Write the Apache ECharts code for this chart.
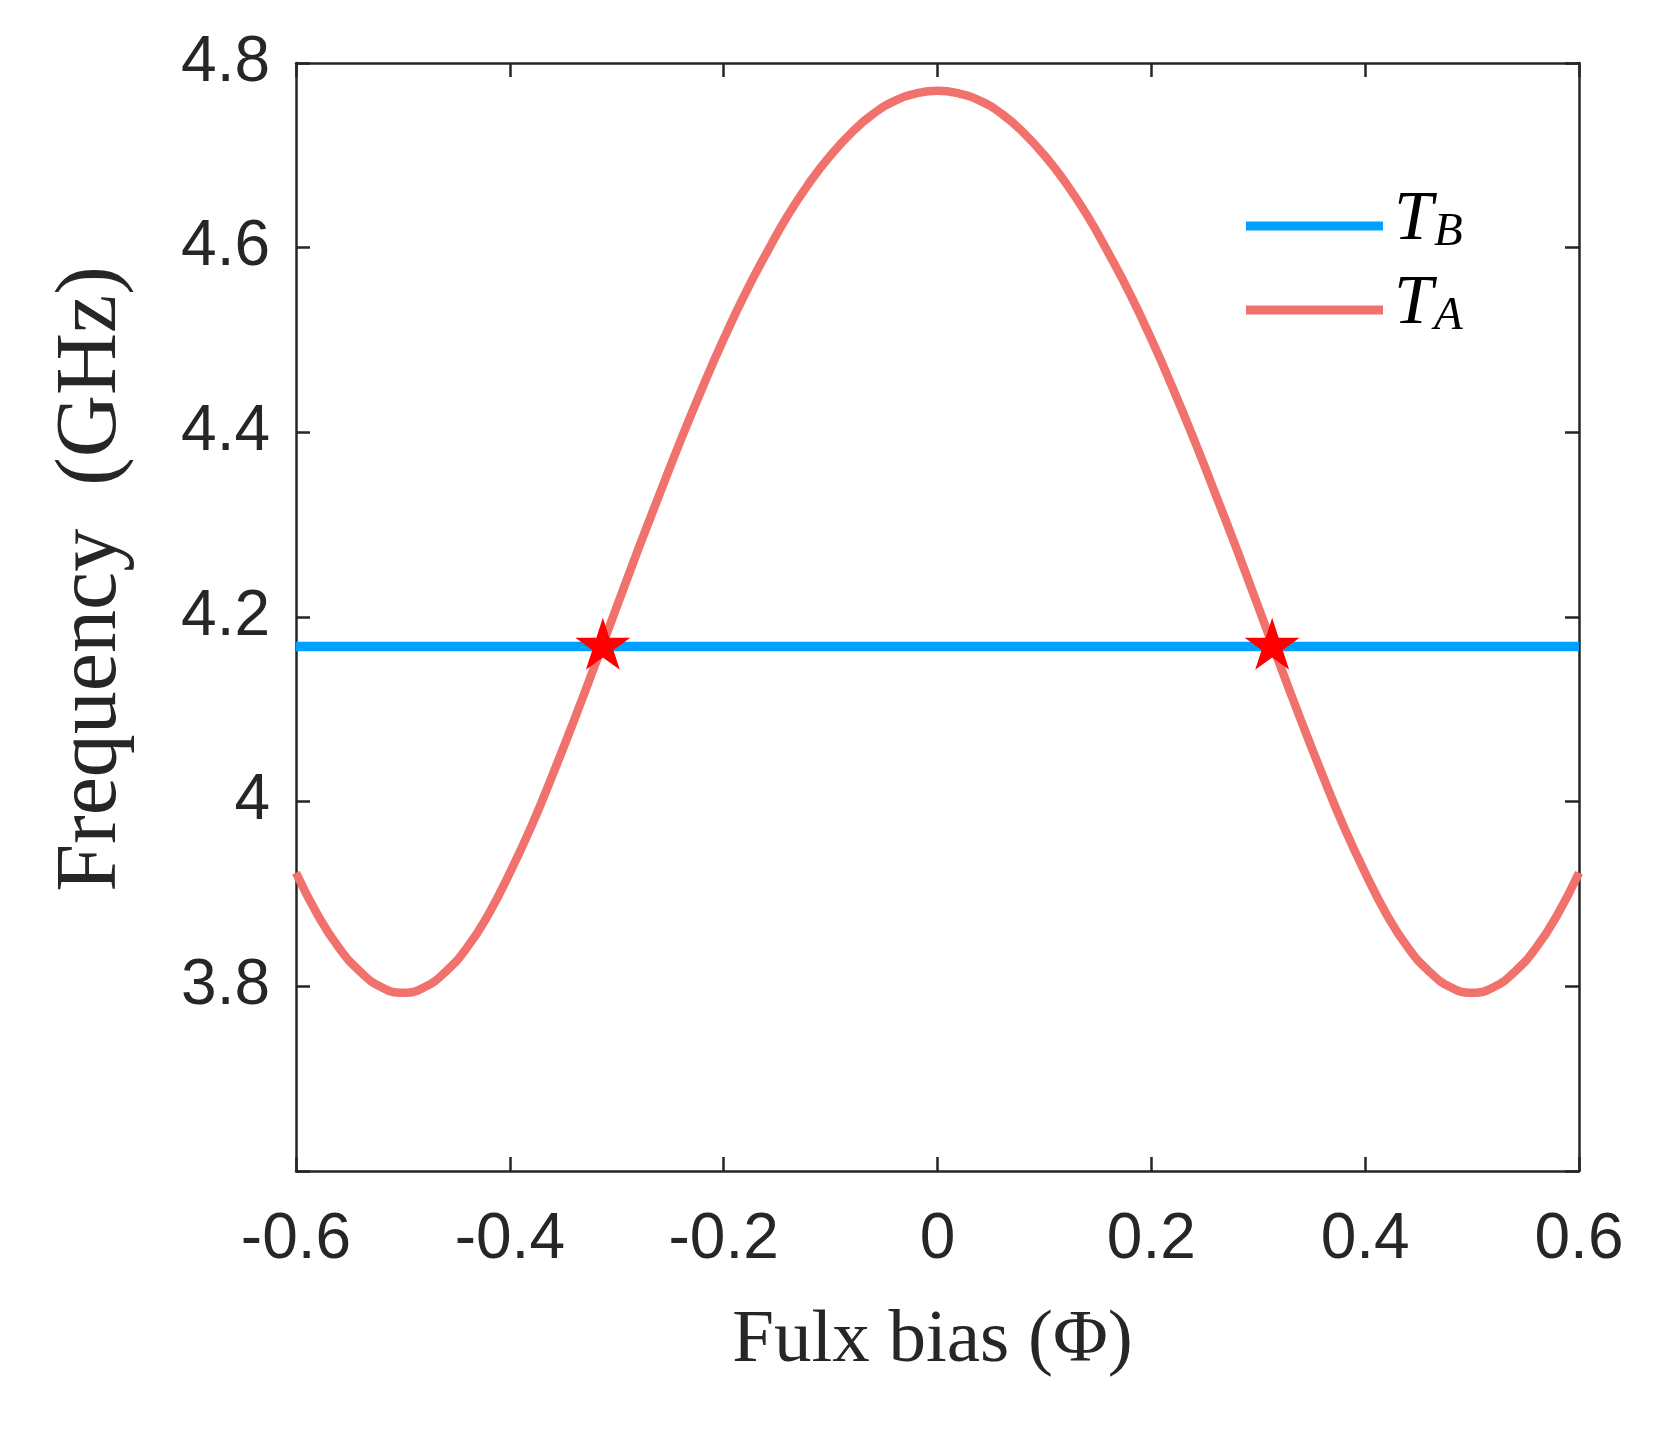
<!DOCTYPE html>
<html><head><meta charset="utf-8">
<script src="https://cdn.jsdelivr.net/npm/echarts@6/dist/echarts.min.js"></script>
<style>html,body{margin:0;padding:0;background:#fff}#c{width:1661px;height:1432px}</style>
</head><body><div id="c"></div>
<script>
// ---- data ----
const fluxBias = [-0.60,-0.58,-0.56,-0.54,-0.52,-0.50,-0.48,-0.46,-0.44,-0.42,-0.40,-0.38,-0.36,-0.34,-0.32,-0.30,-0.28,-0.26,-0.24,-0.22,-0.20,-0.18,-0.16,-0.14,-0.12,-0.10,-0.08,-0.06,-0.04,-0.02,0.00,
  0.02,0.04,0.06,0.08,0.10,0.12,0.14,0.16,0.18,0.20,0.22,0.24,0.26,0.28,0.30,0.32,0.34,0.36,0.38,0.40,0.42,0.44,0.46,0.48,0.50,0.52,0.54,0.56,0.58,0.60];
const freqTA = [3.923,3.878,3.842,3.816,3.799,3.793,3.799,3.816,3.842,3.878,3.923,3.973,4.029,4.088,4.149,4.211,4.273,4.333,4.392,4.448,4.501,4.550,4.594,4.635,4.670,4.700,4.725,4.745,4.759,4.767,4.770,
  4.767,4.759,4.745,4.725,4.700,4.670,4.635,4.594,4.550,4.501,4.448,4.392,4.333,4.273,4.211,4.149,4.088,4.029,3.973,3.923,3.878,3.842,3.816,3.799,3.793,3.799,3.816,3.842,3.878,3.923];
const fluxTB = [-0.6, 0.6];
const freqTB = [4.168, 4.168];
const crossFlux = [-0.313, 0.313];
const crossFreq = [4.168, 4.168];
const xTickLabels = ['-0.6','-0.4','-0.2','0','0.2','0.4','0.6'];
const yTickLabels = ['','3.8','4','4.2','4.4','4.6','4.8'];
const seriesNames = ['T_B','T_A'];
const legendLabels = {T_B: '{t|T}{s|B}', T_A: '{t|T}{s|A}'};

// ---- chart ----
const ink = '#262626';
const chart = echarts.init(document.getElementById('c'), null, {renderer: 'canvas'});
const starPath = 'path://M100,0L122.45,69.1L195.1,69.1L136.33,111.8L158.8,180.9L100,138.2L41.2,180.9L63.67,111.8L4.9,69.1L77.55,69.1Z';
const axisCommon = {
  axisLine: {show: true, onZero: false, lineStyle: {color: ink, width: 2.5}},
  axisTick: {show: true, inside: true, length: 14, lineStyle: {color: ink, width: 2.5}},
  splitLine: {show: false}
};
chart.setOption({
  animation: false,
  backgroundColor: '#ffffff',
  grid: {left: 296, right: 82, top: 63, bottom: 261, containLabel: false},
  xAxis: [
    Object.assign({}, axisCommon, {
      type: 'value', position: 'bottom', min: -0.6, max: 0.6, interval: 0.2,
      axisLabel: {show: true, margin: 37, color: ink, fontFamily: 'Liberation Sans', fontSize: 64,
        formatter: (v, i) => xTickLabels[i]},
      name: 'Fulx bias (\u03A6)', nameLocation: 'middle', nameGap: 133,
      nameTextStyle: {color: ink, fontFamily: 'Liberation Serif', fontSize: 75, padding: [0, 10, 0, 0]}
    }),
    Object.assign({}, axisCommon, {
      type: 'value', position: 'top', min: -0.6, max: 0.6, interval: 0.2,
      axisLabel: {show: false}
    })
  ],
  yAxis: [
    Object.assign({}, axisCommon, {
      type: 'value', position: 'left', min: 3.6, max: 4.8, interval: 0.2,
      axisLabel: {show: true, margin: 26, color: ink, fontFamily: 'Liberation Sans', fontSize: 64,
        formatter: (v, i) => yTickLabels[i]},
      name: 'Frequency  (GHz)', nameLocation: 'middle', nameGap: 161, nameRotate: 90,
      nameTextStyle: {color: ink, fontFamily: 'Liberation Serif', fontSize: 86, padding: [0, 0, 0, 76]}
    }),
    Object.assign({}, axisCommon, {
      type: 'value', position: 'right', min: 3.6, max: 4.8, interval: 0.2,
      axisLabel: {show: false}
    })
  ],
  legend: {
    orient: 'vertical', left: 1246, top: 186, padding: 0, itemGap: 4,
    itemWidth: 137, itemHeight: 9, icon: 'rect',
    data: seriesNames,
    formatter: name => legendLabels[name],
    textStyle: {
      color: '#000',
      rich: {
        t: {fontFamily: 'Liberation Serif', fontStyle: 'italic', fontSize: 70, lineHeight: 66, padding: [0, 0, 10, 6], color: '#000'},
        s: {fontFamily: 'Liberation Serif', fontStyle: 'italic', fontSize: 47, lineHeight: 33, padding: [0, 0, 3, 1], verticalAlign: 'bottom', color: '#000'}
      }
    }
  },
  series: [
    {
      name: 'T_B', type: 'line', xAxisIndex: 0, yAxisIndex: 0, showSymbol: false, clip: false, z: 2,
      color: '#00A0FF', lineStyle: {color: '#00A0FF', width: 9.5},
      data: fluxTB.map((x, i) => [x, freqTB[i]])
    },
    {
      name: 'T_A', type: 'line', xAxisIndex: 0, yAxisIndex: 0, showSymbol: false, clip: false, z: 3,
      smooth: true,
      color: '#F1716D', lineStyle: {color: '#F1716D', width: 8.5},
      data: fluxBias.map((x, i) => [x, freqTA[i]])
    },
    {
      name: 'crossing', type: 'scatter', xAxisIndex: 0, yAxisIndex: 0, z: 4,
      symbol: starPath, symbolSize: [55, 52], symbolOffset: [0, -2.7],
      itemStyle: {color: '#FF0000', opacity: 1},
      emphasis: {disabled: true},
      data: crossFlux.map((x, i) => [x, crossFreq[i]])
    }
  ]
});
</script>
</body></html>
